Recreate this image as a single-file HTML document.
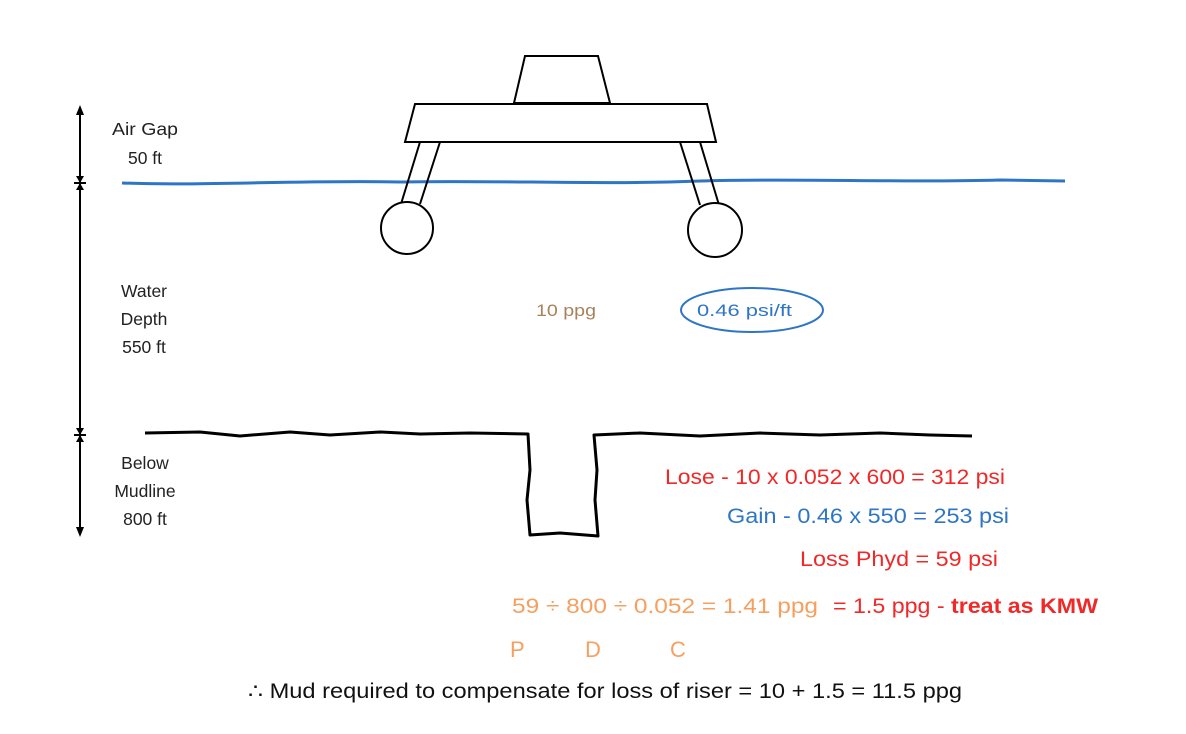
<!DOCTYPE html>
<html><head><meta charset="utf-8"><style>
html,body{margin:0;padding:0;background:#fff;}
svg{display:block;font-family:"Liberation Sans",sans-serif;}
</style></head><body>
<svg width="1186" height="734" viewBox="0 0 1186 734" xmlns="http://www.w3.org/2000/svg">
<g stroke="#000" stroke-width="2" fill="none">
<line x1="80" y1="110" x2="80" y2="532"/>
<line x1="74" y1="183" x2="86" y2="183"/>
<line x1="74" y1="435" x2="86" y2="435"/>
</g>
<g fill="#000">
<polygon points="80,105 76,115 84,115"/>
<polygon points="80,537 76,527 84,527"/>
<polygon points="80,183 76,176 84,176"/><polygon points="80,183 76,190 84,190"/>
<polygon points="80,435 76,428 84,428"/><polygon points="80,435 76,442 84,442"/>
</g>
<g font-size="17.5" fill="#222" text-anchor="middle">
<text x="145" y="135" textLength="66" lengthAdjust="spacingAndGlyphs">Air Gap</text><text x="145" y="164">50 ft</text>
<text x="144" y="297">Water</text><text x="144" y="325">Depth</text><text x="144" y="353">550 ft</text>
<text x="145" y="469">Below</text><text x="145" y="497">Mudline</text><text x="145" y="525">800 ft</text>
</g>
<path d="M122,183 C200,186 300,180 400,182 C500,180 600,185 700,181 C800,178 900,183 1000,180 L1065,181" stroke="#2e75c6" stroke-width="3" fill="none"/>
<g stroke="#000" stroke-width="2" fill="#fff">
<polygon points="525,56 598,56 610,103 514,103"/>
<polygon points="415,104 707,104 716,142 405,142"/>
<line x1="420" y1="142" x2="401" y2="204"/><line x1="440" y1="142" x2="420" y2="204"/>
<line x1="680" y1="142" x2="700" y2="205"/><line x1="700" y1="142" x2="719" y2="205"/>
<circle cx="407" cy="228" r="26"/>
<circle cx="715" cy="230" r="27"/>
</g>
<path d="M145,433 L200,432 L240,436 L290,432 L330,435 L380,432 L420,434 L470,433 L528,434 L530,470 L527,500 L530,535 L560,533 L598,536 L595,500 L597,470 L594,435 L640,433 L700,436 L760,433 L820,435 L880,433 L930,435 L972,436" stroke="#000" stroke-width="3" fill="none" stroke-linejoin="round"/>
<text x="536" y="316" font-size="17" fill="#a8825a" textLength="60" lengthAdjust="spacingAndGlyphs">10 ppg</text>
<ellipse cx="752" cy="310" rx="71" ry="22" stroke="#2e75c6" stroke-width="2" fill="none"/>
<text x="697" y="316" font-size="17" fill="#2e75c6" textLength="95" lengthAdjust="spacingAndGlyphs">0.46 psi/ft</text>
<g font-size="21">
<text x="665" y="484" fill="#f02828" textLength="340" lengthAdjust="spacingAndGlyphs">Lose - 10 x 0.052 x 600 =  312 psi</text>
<text x="727" y="523" fill="#2e75c6" textLength="282" lengthAdjust="spacingAndGlyphs">Gain - 0.46 x 550 =  253 psi</text>
<text x="800" y="566" fill="#f02828" textLength="198" lengthAdjust="spacingAndGlyphs">Loss Phyd =  59 psi</text>
<text x="512" y="613" fill="#f5a060" textLength="306" lengthAdjust="spacingAndGlyphs">59 ÷ 800 ÷ 0.052 = 1.41 ppg</text>
<text x="833" y="613" fill="#f02828" textLength="265" lengthAdjust="spacingAndGlyphs">= 1.5 ppg - <tspan font-weight="bold">treat as KMW</tspan></text>
<text x="510" y="657" fill="#f5a060" font-size="22">P</text>
<text x="585" y="657" fill="#f5a060" font-size="22">D</text>
<text x="670" y="657" fill="#f5a060" font-size="22">C</text>
<text x="248" y="698" fill="#111" font-size="21" textLength="714" lengthAdjust="spacingAndGlyphs">∴ Mud required to compensate for loss of riser = 10 + 1.5 = 11.5 ppg</text>
</g>
</svg>
</body></html>
